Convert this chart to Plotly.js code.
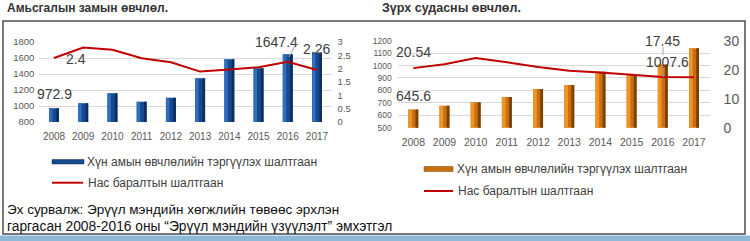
<!DOCTYPE html>
<html>
<head>
<meta charset="utf-8">
<script src="https://cdn.plot.ly/plotly-3.0.1.min.js"></script>
<style>
html,body{margin:0;padding:0;background:#fff;}
#chart{width:750px;height:241px;}
</style>
</head>
<body>
<div id="chart"></div>
<script>
// ---- data ----
const years = ['2008','2009','2010','2011','2012','2013','2014','2015','2016','2017'];
// Left chart: respiratory diseases
const respMorbidity = [972.9, 1034, 1159, 1054, 1104, 1346, 1584, 1471, 1647.4, 1668];
const respMortality = [2.4, 2.79, 2.71, 2.39, 2.24, 1.89, 1.97, 2.05, 2.26, 1.95];
// Right chart: cardiovascular diseases
const cardioMorbidity = [645.6, 677, 704, 747, 811, 843, 950, 924, 1007.6, 1139];
const cardioMortality = [20.54, 21.9, 24.0, 22.6, 20.9, 19.6, 19.0, 18.2, 17.45, 17.4];

const title1 = 'Амьсгалын замын өвчлөл.';
const title2 = 'Зүрх судасны өвчлөл.';
const legendBar = 'Хүн амын өвчлөлийн тэргүүлэх шалтгаан';
const legendLine = 'Нас баралтын шалтгаан';
const source1 = 'Эх сурвалж: Эрүүл мэндийн хөгжлийн төвөөс эрхлэн';
const source2 = 'гаргасан 2008-2016 оны “Эрүүл мэндийн үзүүлэлт” эмхэтгэл';

const W = 750, H = 241;
const px = x => x / W;
const py = y => 1 - y / H;

const FONT = 'Liberation Sans, Arial, sans-serif';
const TICK = '#595959';

function bars(x, y, xa, ya, color, width, offset) {
  return {type:'bar', x:x, y:y, xaxis:xa, yaxis:ya, width:width, offset:offset,
    marker:{color:color, line:{width:0}}, hoverinfo:'skip', showlegend:false};
}

const traces = [
  bars(years, respMorbidity, 'x', 'y', '#174A8C', 0.34, -0.17),
  bars(years, respMorbidity, 'x', 'y', '#2F6DBD', 0.12, -0.17),
  bars(years, respMorbidity, 'x', 'y', '#0C2F5E', 0.09, 0.08),
  {type:'scatter', mode:'lines', x:years, y:respMortality, xaxis:'x', yaxis:'y2',
   line:{color:'#C00000', width:2}, hoverinfo:'skip', showlegend:false},
  bars(years, cardioMorbidity, 'x2', 'y3', '#C8700F', 0.32, -0.16),
  bars(years, cardioMorbidity, 'x2', 'y3', '#F09428', 0.12, -0.16),
  bars(years, cardioMorbidity, 'x2', 'y3', '#7A4208', 0.09, 0.07),
  {type:'scatter', mode:'lines', x:years, y:cardioMortality, xaxis:'x2', yaxis:'y4',
   line:{color:'#C00000', width:2}, hoverinfo:'skip', showlegend:false}
];

const gridc = '#D9D9D9';
const layout = {
  width:W, height:H,
  margin:{l:0,r:0,t:0,b:0},
  paper_bgcolor:'#fff', plot_bgcolor:'rgba(0,0,0,0)',
  barmode:'overlay',
  font:{family:FONT, color:TICK},
  showlegend:false,
  xaxis:{domain:[px(39.4), px(331.6)], anchor:'y', type:'category', categoryarray:years, range:[-0.5, 9.5],
    autorange:false, showgrid:false, showline:false, ticks:'', tickfont:{size:10, color:TICK}, ticklabelstandoff:7},
  yaxis:{domain:[py(122), py(42)], anchor:'x', range:[800,1800], autorange:false, tickvals:[800,1000,1200,1400,1600,1800],
    showgrid:true, gridcolor:gridc, gridwidth:1, zeroline:false, showline:false,
    tickfont:{size:9.5, color:TICK}, ticklabelstandoff:4},
  yaxis2:{overlaying:'y', side:'right', anchor:'x', range:[0,3], autorange:false, tickvals:[0,0.5,1,1.5,2,2.5,3],
    showgrid:false, zeroline:false, showline:false, tickfont:{size:9.5, color:TICK}, ticklabelstandoff:5},
  xaxis2:{domain:[px(397.7), px(709.6)], anchor:'y3', type:'category', categoryarray:years, range:[-0.5, 9.5],
    autorange:false, showgrid:false, showline:false, ticks:'', tickfont:{size:10.5, color:TICK}, ticklabelstandoff:7},
  yaxis3:{domain:[py(127.7), py(40.7)], anchor:'x2', range:[500,1200], autorange:false,
    tickvals:[500,600,700,800,900,1000,1100,1200],
    showgrid:true, gridcolor:gridc, gridwidth:1, zeroline:false, showline:false,
    tickfont:{size:8.5, color:TICK}, ticklabelstandoff:5},
  yaxis4:{overlaying:'y3', side:'right', anchor:'x2', range:[0,30], autorange:false, tickvals:[0,10,20,30],
    showgrid:false, zeroline:false, showline:false, tickfont:{size:14, color:TICK}, ticklabelstandoff:13},
  shapes:[
    {type:'rect', xref:'paper', yref:'paper', x0:px(3), x1:px(745), y0:py(234), y1:py(21),
     line:{color:'#4D4D4D', width:1.5}, layer:'below'},
    {type:'rect', xref:'paper', yref:'paper', x0:0, x1:1, y0:0, y1:py(235.5),
     fillcolor:'#8DB8D8', line:{width:0}, layer:'below'},
    {type:'rect', xref:'paper', yref:'paper', x0:px(52), x1:px(84), y0:py(164), y1:py(159.5),
     fillcolor:'#174A8C', line:{color:'#0C2F5E', width:0.5}},
    {type:'line', xref:'paper', yref:'paper', x0:px(52), x1:px(83), y0:py(182.7), y1:py(182.7),
     line:{color:'#C00000', width:2}},
    {type:'rect', xref:'paper', yref:'paper', x0:px(424), x1:px(453), y0:py(171.5), y1:py(166.5),
     fillcolor:'#C8700F', line:{color:'#7A4208', width:0.5}},
    {type:'line', xref:'paper', yref:'paper', x0:px(424), x1:px(453), y0:py(191), y1:py(191),
     line:{color:'#C00000', width:2}},
    {type:'line', xref:'paper', yref:'paper', x0:px(295), x1:px(289), y0:py(46), y1:py(57),
     line:{color:'#A6A6A6', width:1}},
    {type:'line', xref:'paper', yref:'paper', x0:px(663), x1:px(663), y0:py(47), y1:py(55),
     line:{color:'#A6A6A6', width:1}},
    {type:'line', xref:'paper', yref:'paper', x0:px(663), x1:px(663), y0:py(68), y1:py(77),
     line:{color:'#A6A6A6', width:1}}
  ],
  annotations:[
    {text:'<b>'+title1+'</b>', xref:'paper', yref:'paper', x:px(5), y:py(8.5), xanchor:'left', yanchor:'middle',
     showarrow:false, font:{size:12, color:'#333', family:FONT}},
    {text:'<b>'+title2+'</b>', xref:'paper', yref:'paper', x:px(380), y:py(8.5), xanchor:'left', yanchor:'middle',
     showarrow:false, font:{size:12.5, color:'#333', family:FONT}},
    {text:legendBar, xref:'paper', yref:'paper', x:px(85), y:py(162), xanchor:'left', yanchor:'middle',
     showarrow:false, font:{size:12, color:'#404040'}},
    {text:legendLine, xref:'paper', yref:'paper', x:px(86), y:py(183), xanchor:'left', yanchor:'middle',
     showarrow:false, font:{size:12, color:'#404040'}},
    {text:legendBar, xref:'paper', yref:'paper', x:px(455), y:py(168.5), xanchor:'left', yanchor:'middle',
     showarrow:false, font:{size:12, color:'#404040'}},
    {text:legendLine, xref:'paper', yref:'paper', x:px(456), y:py(191), xanchor:'left', yanchor:'middle',
     showarrow:false, font:{size:12, color:'#404040'}},
    {text:source1, xref:'paper', yref:'paper', x:px(5), y:py(209.5), xanchor:'left', yanchor:'middle',
     showarrow:false, font:{size:13.5, color:'#111'}},
    {text:source2, xref:'paper', yref:'paper', x:px(5), y:py(226), xanchor:'left', yanchor:'middle',
     showarrow:false, font:{size:13.8, color:'#111'}},
    {text:String(respMorbidity[0]), xref:'x', yref:'y', x:0, y:respMorbidity[0], yshift:14,
     showarrow:false, font:{size:14, color:'#404040'}},
    {text:String(respMortality[0]), xref:'x', yref:'y2', x:0, y:respMortality[0], xshift:22, yshift:-1,
     showarrow:false, font:{size:14, color:'#404040'}},
    {text:String(respMorbidity[8]), xref:'x', yref:'y', x:8, y:respMorbidity[8], xshift:-11, yshift:12,
     showarrow:false, font:{size:14, color:'#404040'}},
    {text:String(respMortality[8]), xref:'x', yref:'y2', x:8, y:respMortality[8], xshift:29, yshift:13,
     showarrow:false, font:{size:14, color:'#404040'}},
    {text:String(cardioMorbidity[0]), xref:'x2', yref:'y3', x:0, y:cardioMorbidity[0], yshift:14,
     showarrow:false, font:{size:14, color:'#404040'}},
    {text:String(cardioMortality[0]), xref:'x2', yref:'y4', x:0, y:cardioMortality[0], yshift:16,
     showarrow:false, font:{size:14, color:'#404040'}},
    {text:String(cardioMortality[8]), xref:'x2', yref:'y4', x:8, y:cardioMortality[8], yshift:36,
     showarrow:false, font:{size:14, color:'#404040'}},
    {text:String(cardioMorbidity[8]), xref:'x2', yref:'y3', x:8, y:cardioMorbidity[8], xshift:5, yshift:3,
     showarrow:false, font:{size:14, color:'#404040'}}
  ]
};

Plotly.newPlot('chart', traces, layout, {staticPlot:true, displayModeBar:false});
</script>
</body>
</html>
